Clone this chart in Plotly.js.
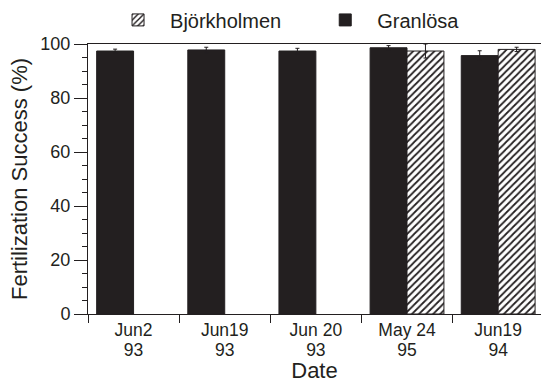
<!DOCTYPE html>
<html>
<head>
<meta charset="utf-8">
<script src="https://cdn.plot.ly/plotly-3.0.1.min.js"></script>
<style>html,body{margin:0;padding:0;background:#fff;}#chart{width:541px;height:383px;}</style>
</head>
<body>
<div id="chart"></div>
<script>
const categories = ["Jun2 93", "Jun19 93", "Jun 20 93", "May 24 95", "Jun19 94"];
const dateLabels = ["Jun2", "Jun19", "Jun 20", "May 24", "Jun19"];
const yearLabels = ["93", "93", "93", "95", "94"];
const granlosa = [97.4, 97.8, 97.4, 98.6, 95.7];
const granlosaErr = [0.7, 1.0, 1.0, 0.8, 1.8];
const bjorkholmen = [null, null, null, 97.4, 98.0];
const bjorkholmenErr = [null, null, null, 2.6, 0.8];

const FONT = "Liberation Sans, Arial, Helvetica, sans-serif";
const INK = "#231f20";
const XRANGE = [-0.5, 4.47];

const traces = [
  {
    type: "bar", name: "Granlösa", x: categories, y: granlosa, legend: "legend2",
    marker: {color: INK, line: {color: INK, width: 1}},
    error_y: {type: "data", array: granlosaErr, visible: true, color: INK, thickness: 1, width: 2}
  },
  {
    type: "bar", name: "Björkholmen", x: categories, y: bjorkholmen, legend: "legend",
    marker: {color: "#ffffff", line: {color: INK, width: 1},
             pattern: {shape: "/", fgcolor: INK, bgcolor: "#ffffff", size: 5, solidity: 0.35}},
    error_y: {type: "data", array: bjorkholmenErr, visible: true, color: INK, thickness: 1, width: 2}
  },
  {
    type: "scatter", mode: "none", x: categories, y: categories.map(() => null),
    xaxis: "x2", yaxis: "y", showlegend: false, hoverinfo: "skip"
  }
];

const legendBase = {orientation: "h", xref: "container", yref: "container", xanchor: "left",
  y: 0.948, yanchor: "middle", font: {family: FONT, size: 20, color: INK},
  itemwidth: 54, bgcolor: "rgba(0,0,0,0)", borderwidth: 0};

const layout = {
  width: 541, height: 383,
  margin: {l: 88, r: 0, t: 44, b: 69},
  paper_bgcolor: "#fff", plot_bgcolor: "#fff",
  font: {family: FONT, color: INK, size: 18},
  barmode: "group", bargap: 0.19, bargroupgap: 0,
  showlegend: true,
  legend: Object.assign({}, legendBase, {x: 0.196}),
  legend2: Object.assign({}, legendBase, {x: 0.579}),
  xaxis: {
    type: "category", range: XRANGE, categoryorder: "array", categoryarray: categories,
    tickvals: categories, ticktext: dateLabels,
    showline: true, linecolor: INK, linewidth: 1, mirror: true,
    ticks: "outside", tickson: "boundaries", ticklen: 8, tickcolor: INK,
    showgrid: false, zeroline: false,
    tickfont: {family: FONT, size: 17.5, color: INK},
    title: {text: "Date", font: {family: FONT, size: 22, color: INK}, standoff: 28},
    automargin: false
  },
  xaxis2: {
    type: "category", range: XRANGE, categoryorder: "array", categoryarray: categories,
    overlaying: "x", anchor: "y", side: "bottom",
    tickvals: categories, ticktext: yearLabels,
    showline: false, ticks: "", showgrid: false, zeroline: false,
    ticklabelstandoff: 23,
    tickfont: {family: FONT, size: 17.5, color: INK},
    automargin: false
  },
  yaxis: {
    range: [0, 100], dtick: 20, tick0: 0,
    showline: true, linecolor: INK, linewidth: 1,
    ticks: "outside", ticklen: 13, tickcolor: INK,
    minor: {dtick: 5, ticks: "outside", ticklen: 5, tickcolor: INK, showgrid: false},
    showgrid: false, zeroline: false,
    tickfont: {family: FONT, size: 18, color: INK},
    title: {text: "Fertilization Success (%)", font: {family: FONT, size: 22, color: INK}, standoff: 6},
    automargin: false
  }
};

Plotly.newPlot("chart", traces, layout, {displayModeBar: false, staticPlot: true});
</script>
</body>
</html>
